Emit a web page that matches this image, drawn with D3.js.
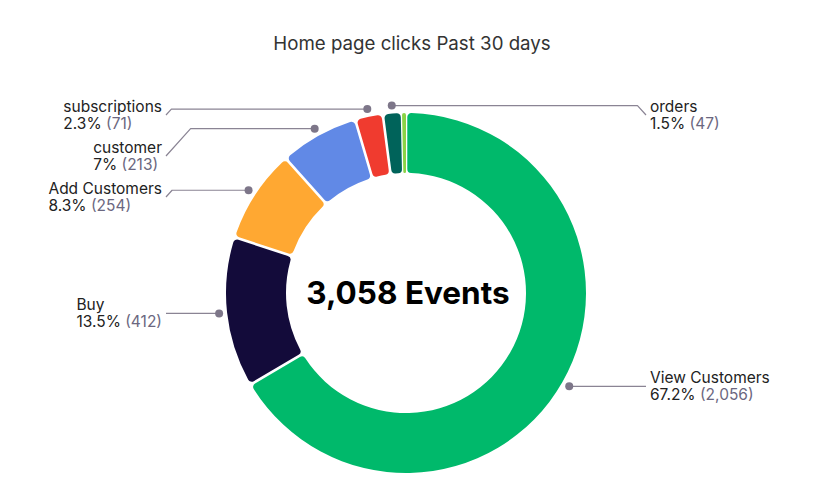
<!DOCTYPE html>
<html><head><meta charset="utf-8">
<script src="https://cdn.jsdelivr.net/npm/d3@7"></script>
<style>
html,body{margin:0;padding:0;background:#fff;}
svg text{font-family:Inter,"Noto Sans",sans-serif;}
</style></head>
<body>
<svg id="chart" width="827" height="490"></svg>
<script>
const categories = ["View Customers","Buy","Add Customers","customer","subscriptions","orders","other"];
const values = [2056, 412, 254, 213, 71, 47, 5];
const percentLabels = ["67.2%","13.5%","8.3%","7%","2.3%","1.5%",""];
const countLabels = ["2,056","412","254","213","71","47",""];
const showLabel = [true,true,true,true,true,true,false];
const colors = ["#00b96b","#130b3a","#ffa832","#6189e6","#f03b2f","#00635a","#8bd346"];
const title = "Home page clicks Past 30 days";
const centerText = "3,058 Events";

const svg = d3.select("#chart");
const cx = 406, cy = 293, outerR = 180, innerR = 120;

svg.append("text").attr("x", 412).attr("y", 50).attr("text-anchor","middle")
  .attr("font-size", 18.7).attr("fill", "#333").text(title);

const data = categories.map((c,i)=>({name:c, value:values[i], i}));
const pie = d3.pie().value(d=>d.value).sort(null).padAngle(0.012);
const arcs = pie(data);
arcs.forEach(a=>{ if (a.data.value/ d3.sum(values) < 0.005) a.padAngle = 0; });
const arc = d3.arc().innerRadius(innerR).outerRadius(outerR).cornerRadius(4);

const g = svg.append("g").attr("transform", `translate(${cx},${cy})`);
g.selectAll("path.slice").data(arcs).join("path").attr("class","slice")
  .attr("d", arc).attr("fill", d=>colors[d.data.i]);

svg.append("text").attr("x", cx + 2).attr("y", cy + 11).attr("text-anchor","middle")
  .attr("font-size", 31.5).attr("font-weight", 700).attr("fill","#000").text(centerText);

// labels
const dotR = 188;
const labelOffset = 240;
const minY = 115, gap = 41;
const fs = 15.5;
const items = arcs.filter(a=>showLabel[a.data.i]).map(a=>{
  const m = (a.startAngle + a.endAngle)/2;
  const s = Math.sin(m), c = Math.cos(m);
  return {a, i:a.data.i, dx: cx + s*dotR, dy: cy - c*dotR, side: s > -0.08 ? "right" : "left"};
});
["left","right"].forEach(side=>{
  const arr = items.filter(d=>d.side===side).sort((p,q)=>p.dy-q.dy);
  let prev = -Infinity;
  arr.forEach(d=>{ d.ly = Math.max(d.dy, prev + gap, minY); prev = d.ly; });
});

const lg = svg.append("g");
items.forEach(d=>{
  const dir = d.side === "right" ? 1 : -1;
  const lx = cx + dir*labelOffset;
  const dyAbs = Math.abs(d.ly - d.dy);
  const ex = lx - dir*(dyAbs*0.9);
  lg.append("path").attr("d", d3.line()([[d.dx,d.dy],[ex,d.dy],[lx,d.ly]]))
    .attr("fill","none").attr("stroke","#8a8494").attr("stroke-width",1.2)
    .attr("stroke-linejoin","round");
  lg.append("circle").attr("cx", d.dx).attr("cy", d.dy).attr("r", 4).attr("fill","#7d7689");
  const t = lg.append("text").attr("y", d.ly - 3).attr("font-size", fs).attr("fill", "#222");
  const s1 = t.append("tspan").attr("x", 0).text(categories[d.i]);
  const s2 = t.append("tspan").attr("x", 0).attr("dy", 16.5).text(percentLabels[d.i] + " ");
  const s3 = t.append("tspan").attr("fill", "#6b6780").text("(" + countLabels[d.i] + ")");
  const w = Math.max(s1.node().getComputedTextLength(),
    s2.node().getComputedTextLength() + s3.node().getComputedTextLength());
  const tx = d.side === "right" ? lx + 4 : lx - 4 - w;
  t.attr("transform", `translate(${tx},0)`);
});
</script>
</body></html>
